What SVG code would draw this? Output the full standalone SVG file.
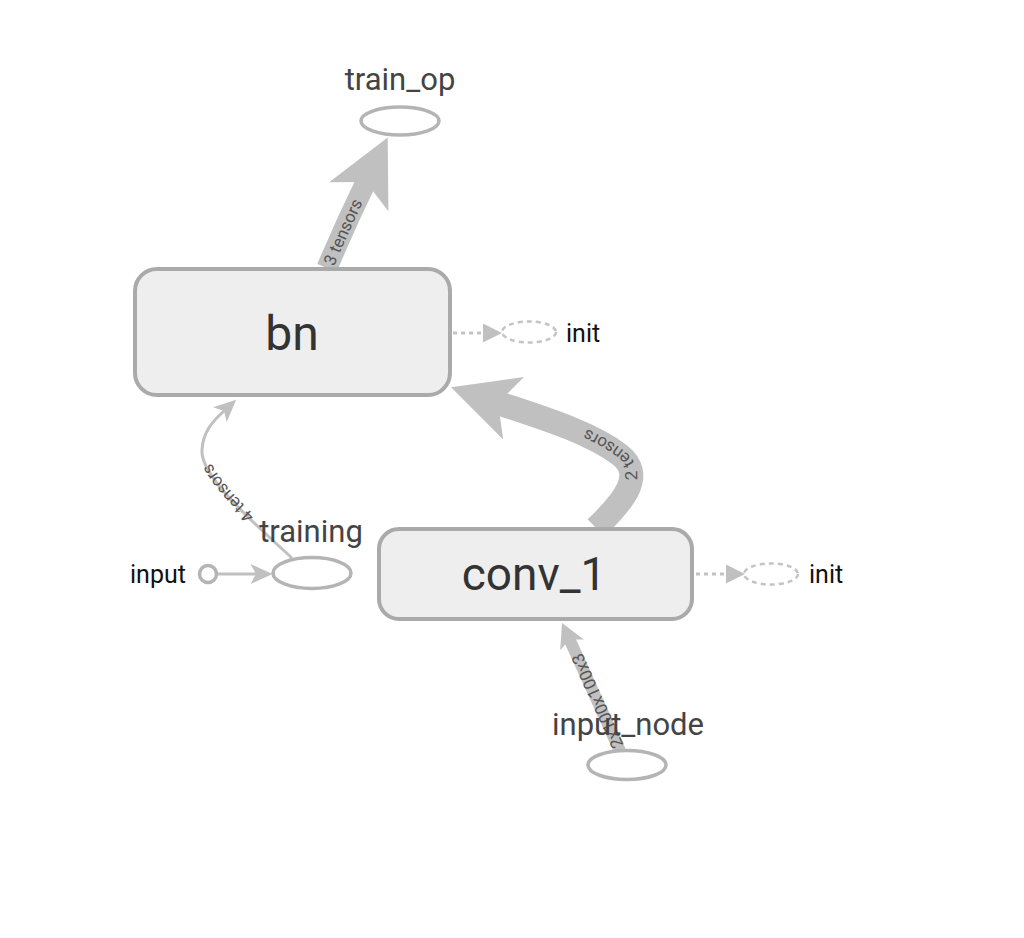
<svg xmlns="http://www.w3.org/2000/svg" width="1024" height="938" viewBox="0 0 1024 938">
  <style>
    .box { fill: #eeeeee; stroke: #aaaaaa; stroke-width: 4; }
    .op { fill: #ffffff; stroke: #b4b4b4; stroke-width: 3.5; }
    .dashop { fill: none; stroke: #c4c4c4; stroke-width: 2.5; stroke-dasharray: 5 4; }
    .edge { fill: none; stroke: #c0c0c0; stroke-linecap: butt; }
    .ctrl { fill: none; stroke: #c4c4c4; stroke-width: 3; stroke-dasharray: 4 4; }
    .elabel { font-family: Roboto, "Liberation Sans", sans-serif; font-size: 17px; fill: #555555; }
    .title { font-family: Roboto, "Liberation Sans", sans-serif; fill: #333333; text-anchor: middle; }
    .name { font-family: Roboto, "Liberation Sans", sans-serif; fill: #444444; font-size: 31px; text-anchor: middle; }
    .small { font-family: Roboto, "Liberation Sans", sans-serif; fill: #111111; font-size: 25px; }
  </style>
  <defs>
    <marker id="bigHead" viewBox="0 0 10 10" refX="2.5" refY="5" markerUnits="userSpaceOnUse" markerWidth="66" markerHeight="66" orient="auto" preserveAspectRatio="none">
      <path d="M0,0 L10,5 L0,10 L2.5,5 Z" fill="#c0c0c0"/>
    </marker>
    <marker id="medHead" viewBox="0 0 10 10" refX="2.5" refY="5" markerUnits="userSpaceOnUse" markerWidth="24" markerHeight="26" orient="auto" preserveAspectRatio="none">
      <path d="M0,0 L10,5 L0,10 L2.5,5 Z" fill="#c0c0c0"/>
    </marker>
    <marker id="smallHead" viewBox="0 0 10 10" refX="2.5" refY="5" markerUnits="userSpaceOnUse" markerWidth="22" markerHeight="20" orient="auto" preserveAspectRatio="none">
      <path d="M0,0 L10,5 L0,10 L2.5,5 Z" fill="#c0c0c0"/>
    </marker>
    <marker id="triHead" viewBox="0 0 10 10" refX="0" refY="5" markerUnits="userSpaceOnUse" markerWidth="19" markerHeight="19" orient="auto" preserveAspectRatio="none">
      <path d="M0,0 L10,5 L0,10 Z" fill="#c0c0c0"/>
    </marker>
  </defs>
  <rect x="0" y="0" width="1024" height="938" fill="#ffffff"/>

  <g id="connectors">
    <path id="e-bn-train" class="edge" stroke-width="21" d="M327,268 Q345,225 366,182" marker-end="url(#bigHead)"/>
    <text class="elabel" dy="0.35em"><textPath href="#e-bn-train" startOffset="4">3 tensors</textPath></text>

    <path id="e-conv-bn" class="edge" stroke-width="24" d="M596,528 C625,500 645,475 620,455 C590,432 540,417 498,403" marker-end="url(#bigHead)"/>
    <text class="elabel" dy="0.35em"><textPath href="#e-conv-bn" startOffset="60">2 tensors</textPath></text>

    <path id="e-in-conv" class="edge" stroke-width="12" d="M620,751 L569.5,639.4" marker-end="url(#medHead)"/>
    <text class="elabel" dy="0.35em"><textPath href="#e-in-conv" startOffset="4">2x100x100x3</textPath></text>

    <path id="e-train-bn" class="edge" stroke-width="3" d="M292,558 C250,520 200,475 202,450 C203,432 212,422 224,411" marker-end="url(#smallHead)"/>
    <text class="elabel" dy="0.35em"><textPath href="#e-train-bn" startOffset="56">4 tensors</textPath></text>

    <path id="e-input-training" class="edge" stroke-width="3" d="M218,574 L256,574" marker-end="url(#smallHead)"/>

    <path class="ctrl" d="M453,333 L483,333" marker-end="url(#triHead)"/>
    <path class="ctrl" d="M696,574 L726,574" marker-end="url(#triHead)"/>
  </g>

  <g id="node-train_op">
    <ellipse class="op" cx="400" cy="121" rx="39" ry="14"/>
    <text class="name" x="400" y="90">train_op</text>
  </g>

  <g id="node-bn">
    <rect class="box" x="135" y="269" width="315" height="126" rx="22" ry="22"/>
    <text class="title" x="292" y="350" font-size="48">bn</text>
  </g>

  <g id="node-bn-init">
    <ellipse class="dashop" cx="529" cy="332" rx="27" ry="10.5"/>
    <text class="small" x="566" y="342">init</text>
  </g>

  <g id="node-conv_1">
    <rect class="box" x="379" y="529" width="313" height="90" rx="20" ry="20"/>
    <text class="title" x="534" y="590" font-size="46">conv_1</text>
  </g>

  <g id="node-conv-init">
    <ellipse class="dashop" cx="771" cy="574" rx="27" ry="10.5"/>
    <text class="small" x="809" y="583">init</text>
  </g>

  <g id="node-training">
    <ellipse class="op" cx="312" cy="573" rx="39" ry="15.5"/>
    <text class="name" x="311" y="542">training</text>
  </g>

  <g id="node-input">
    <circle class="op" cx="208" cy="574" r="8.5"/>
    <text class="small" x="130" y="583">input</text>
  </g>

  <g id="node-input_node">
    <ellipse class="op" cx="627" cy="765" rx="39" ry="14.5"/>
    <text class="name" x="628" y="735">input_node</text>
  </g>
</svg>
